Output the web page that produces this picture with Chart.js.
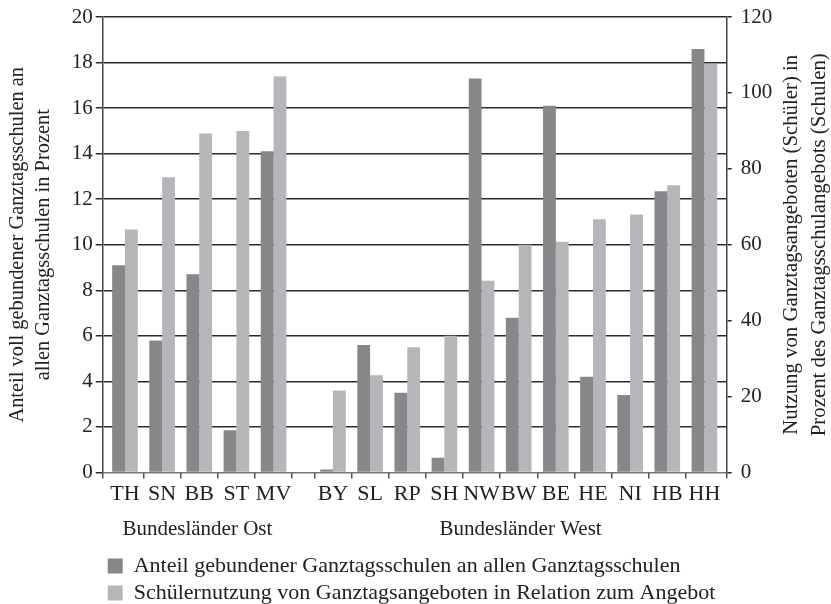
<!DOCTYPE html>
<html lang="de">
<head>
<meta charset="utf-8">
<title>Ganztagsschulen nach Bundesländern</title>
<script src="https://cdn.jsdelivr.net/npm/chart.js@4/dist/chart.umd.min.js"></script>
<style>
    html, body { margin: 0; padding: 0; background: #fff; }
    canvas { display: block; }
</style>
</head>
<body>
<canvas id="chart" width="831" height="604"></canvas>
<script>
// --- Daten ---
const ostLaender = ['TH', 'SN', 'BB', 'ST', 'MV'];
const westLaender = ['BY', 'SL', 'RP', 'SH', 'NW', 'BW', 'BE', 'HE', 'NI', 'HB', 'HH'];
const gruppen = ['Bundesländer Ost', 'Bundesländer West'];

// Anteil gebundener Ganztagsschulen (linke Achse, %)
const anteilGebunden = [9.1, 5.8, 8.7, 1.85, 14.1, 0.13, 5.6, 3.5, 0.65, 17.3, 6.8, 16.1, 4.2, 3.4, 12.35, 18.6];
// Schülernutzung im Verhältnis zum Angebot (rechte Achse, %)
const schuelerNutzung = [64.0, 77.8, 89.3, 90.0, 104.3, 21.6, 25.6, 33.0, 36.0, 50.5, 60.0, 60.8, 66.7, 68.0, 75.7, 107.6];

const legendeTexte = [
    'Anteil gebundener Ganztagsschulen an allen Ganztagsschulen',
    'Schülernutzung von Ganztagsangeboten in Relation zum Angebot'
];
const titelLinks = ['Anteil voll gebundener Ganztagsschulen an', 'allen Ganztagsschulen in Prozent'];
const titelRechts = ['Nutzung von Ganztagsangeboten (Schüler) in', 'Prozent des Ganztagsschulangebots (Schulen)'];

// --- Layout der x-Achse: Lücke zwischen Ost und West ---
const LUECKE = 0.6;
const laender = ostLaender.concat(westLaender);
const xPos = laender.map((_, i) => i + 0.5 + (i >= ostLaender.length ? LUECKE : 0));
const xMin = -0.1;
const xMax = laender.length + LUECKE + 0.1;

// Grenzen der Kategorien (Tickstriche)
const grenzen = [xMin];
for (let i = 1; i <= ostLaender.length; i++) grenzen.push(i);
for (let i = 0; i < westLaender.length; i++) grenzen.push(ostLaender.length + LUECKE + i);
grenzen.push(xMax);

const gruppenMitte = [
    (xMin + ostLaender.length) / 2,
    (ostLaender.length + LUECKE + xMax) / 2
];

const SCHRIFT = '"Liberation Serif", "Times New Roman", serif';
const TEXTFARBE = '#222';
const font = (size) => ({ family: SCHRIFT, size: size });

// Titel der rechten Achse, von unten nach oben gelesen
const rechterTitel = {
    id: 'rechterTitel',
    afterDraw(chart) {
        const { ctx, chartArea } = chart;
        const scale = chart.scales.y1;
        const mitteY = (chartArea.top + chartArea.bottom) / 2;
        ctx.save();
        ctx.font = '20.8px ' + SCHRIFT;
        ctx.fillStyle = TEXTFARBE;
        ctx.textAlign = 'center';
        ctx.textBaseline = 'alphabetic';
        titelRechts.forEach((zeile, i) => {
            ctx.save();
            ctx.translate(scale.left + 70 + i * 28, mitteY);
            ctx.rotate(-Math.PI / 2);
            ctx.fillText(zeile, 0, 0);
            ctx.restore();
        });
        ctx.restore();
    }
};

new Chart(document.getElementById('chart'), {
    type: 'bar',
    data: {
        datasets: [
            {
                label: legendeTexte[0],
                data: anteilGebunden.map((v, i) => ({ x: xPos[i], y: v })),
                backgroundColor: '#878789',
                borderWidth: 0,
                xAxisID: 'x',
                yAxisID: 'y'
            },
            {
                label: legendeTexte[1],
                data: schuelerNutzung.map((v, i) => ({ x: xPos[i], y: v })),
                backgroundColor: '#b5b6b9',
                borderWidth: 0,
                xAxisID: 'x',
                yAxisID: 'y1'
            }
        ]
    },
    plugins: [rechterTitel],
    options: {
        responsive: false,
        animation: false,
        categoryPercentage: 0.69,
        barPercentage: 1.0,
        layout: { padding: { top: 17, left: 0, right: 0, bottom: 0 } },
        plugins: {
            tooltip: { enabled: false },
            legend: {
                position: 'bottom',
                align: 'start',
                fullSize: false,
                maxHeight: 54,
                labels: {
                    font: font(22),
                    color: TEXTFARBE,
                    boxWidth: 15,
                    boxHeight: 15,
                    padding: 5
                }
            }
        },
        scales: {
            y: {
                position: 'left',
                min: 0,
                max: 20,
                ticks: { stepSize: 2, font: { family: SCHRIFT, size: 21, lineHeight: 0.75 }, color: TEXTFARBE, padding: 3 },
                grid: {
                    color: (c) => (c.tick && c.tick.value === 0 ? '#777' : '#2a2a2a'),
                    tickColor: '#2a2a2a',
                    lineWidth: 1.5,
                    tickLength: 7
                },
                border: { display: true, color: '#444', width: 1.5 },
                title: {
                    display: true,
                    text: titelLinks,
                    font: { family: SCHRIFT, size: 20.4, lineHeight: 1.3 },
                    color: TEXTFARBE,
                    padding: { top: 4, bottom: 0 }
                },
                afterFit: (scale) => { scale.width = 102.7; }
            },
            y1: {
                position: 'right',
                min: 0,
                max: 120,
                ticks: { stepSize: 20, font: { family: SCHRIFT, size: 21, lineHeight: 0.75 }, color: TEXTFARBE, padding: 9 },
                grid: { drawOnChartArea: false, color: '#2a2a2a', lineWidth: 1.5, tickLength: 5 },
                border: { display: true, color: '#444', width: 1.5 },
                afterFit: (scale) => { scale.width = 831 - 726.7; }
            },
            xTicks: {
                type: 'linear',
                position: 'bottom',
                weight: 1,
                min: xMin,
                max: xMax,
                offset: false,
                afterBuildTicks: (scale) => { scale.ticks = grenzen.map(v => ({ value: v })); },
                ticks: { display: false },
                grid: { offset: false, drawOnChartArea: false, color: '#555', lineWidth: 1.5, tickLength: 6 },
                border: { display: false },
                afterFit: (scale) => { scale.height = 6; }
            },
            x: {
                type: 'linear',
                position: 'bottom',
                weight: 2,
                min: xMin,
                max: xMax,
                offset: false,
                afterBuildTicks: (scale) => { scale.ticks = xPos.map(v => ({ value: v })); },
                ticks: {
                    font: font(22),
                    color: TEXTFARBE,
                    padding: 3,
                    autoSkip: false,
                    maxRotation: 0,
                    minRotation: 0,
                    callback: (value, index) => laender[index]
                },
                grid: { display: false, drawTicks: false, offset: false },
                border: { display: false },
                afterFit: (scale) => { scale.height = 32; }
            },
            xGroup: {
                type: 'linear',
                position: 'bottom',
                weight: 3,
                min: xMin,
                max: xMax,
                offset: false,
                afterBuildTicks: (scale) => { scale.ticks = gruppenMitte.map(v => ({ value: v })); },
                ticks: {
                    font: font(21),
                    color: TEXTFARBE,
                    padding: 6,
                    autoSkip: false,
                    maxRotation: 0,
                    minRotation: 0,
                    callback: (value, index) => gruppen[index]
                },
                grid: { display: false, drawTicks: false, offset: false },
                border: { display: false },
                afterFit: (scale) => { scale.height = 39.5; }
            }
        }
    }
});
</script>
</body>
</html>
